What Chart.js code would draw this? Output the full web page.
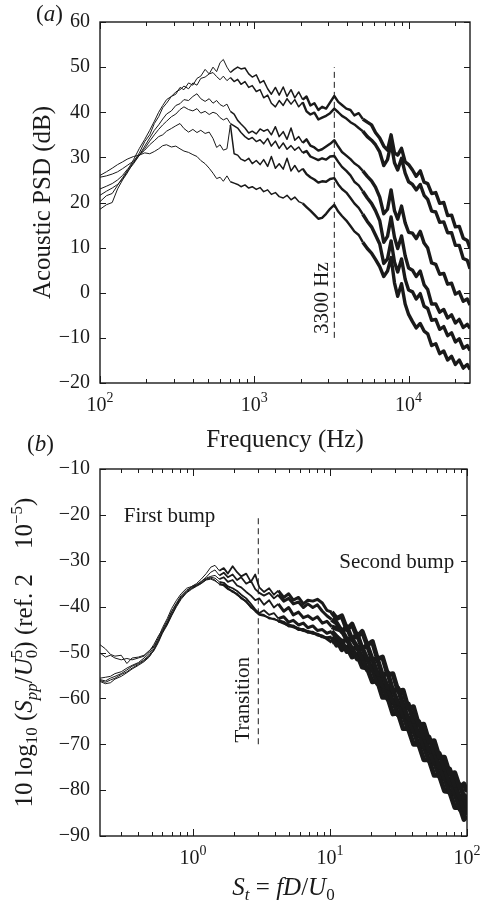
<!DOCTYPE html>
<html>
<head>
<meta charset="utf-8">
<script src="https://cdn.jsdelivr.net/npm/chart.js@4.4.0/dist/chart.umd.min.js"></script>
<style>
  html, body { margin: 0; padding: 0; background: #fff; }
  body { width: 482px; height: 901px; position: relative; overflow: hidden; }
  canvas { position: absolute; left: 0; }
  #chartA { top: 0; }
  #chartB { top: 430px; }
</style>
</head>
<body>
<canvas id="chartA" width="482" height="460"></canvas>
<canvas id="chartB" width="482" height="471"></canvas>
<script>
// ---- panel (a): acoustic PSD (dB) vs frequency (Hz), six runs ----
const FREQ_A = [
  100, 110, 120, 130, 140, 150, 165, 180, 195, 210,
  225, 240, 255, 270, 290, 310, 330, 350, 375, 400,
  425, 450, 480, 510, 540, 570, 600, 630, 665, 700,
  740, 780, 820, 870, 920, 970, 1030, 1090, 1150, 1220,
  1290, 1370, 1450, 1540, 1630, 1730, 1830, 1940, 2060, 2180,
  2310, 2450, 2600, 2750, 2920, 3100, 3300, 3500, 3700, 3950,
  4200, 4450, 4750, 5050, 5400, 5750, 6100, 6500, 6900, 7300,
  7700, 8100, 8500, 9000, 9500, 10000, 10600, 11200, 11900, 12600,
  13300, 14100, 15000, 15900, 16900, 17900, 19000, 20100, 21300, 22600,
  24000, 25000
];
const PSD_A1 = [
  18.5, 19.5, 20, 23, 25, 26.5, 29, 31, 33.5, 35,
  37.5, 39, 41, 42, 43.5, 44, 45.5, 45, 46.5, 46,
  47.5, 48, 49.5, 48.5, 50, 49, 51, 51.7, 50, 48.8,
  49.5, 50, 49.6, 49.8, 48.5, 47.8, 48.3, 46.5, 47, 45.2,
  44, 45.5, 43.8, 45.6, 43.5, 45, 43.2, 44.5, 42.8, 43.5,
  41.5, 42, 40.5, 41.2, 40.8, 42.2, 43.6, 42.3, 41.6, 40.8,
  40.5, 39.3, 39.8, 38.5, 37.8, 37.2, 35.5, 34.3, 32.5, 31.6,
  35, 31, 30.5, 32, 29, 28.4, 27.2, 25.8, 27, 24.5,
  24.2, 22, 22.2, 19.8, 20, 17.1, 17.2, 14.6, 14.7, 12.1,
  11.6, 9.8
];
const PSD_A2 = [
  20.2, 21.5, 22, 23.8, 25.5, 27, 29.5, 32, 34, 36,
  38, 40, 41.5, 42.8, 43.5, 44.5, 45, 45.8, 45.2, 46.5,
  46, 47.5, 47.8, 48.5, 48.8, 47.9, 47.2, 48, 47, 47.7,
  46.8, 47.3, 46.2, 46.8, 45.5, 45.9, 44.6, 45, 43.2, 43.8,
  42, 41.2, 42.6, 41.5, 43, 41.8, 42.8, 41.2, 42.2, 40.2,
  39.5, 39.9, 38.4, 38.8, 39.2, 39.8, 40.8, 40, 39.2, 38.6,
  37.8, 37.3, 36.5, 35.8, 34.6, 33.8, 32.8, 31.2, 28.2, 29.5,
  33.2, 28.8, 27.2, 29.8, 26.5, 24.6, 24, 22.8, 24, 21.6,
  20.7, 18.1, 17.9, 15.6, 15.7, 13.3, 13.3, 10.5, 10.5, 7.6,
  7.2, 5.3
];
const PSD_A3 = [
  21.6, 22.5, 23.2, 24, 25.2, 26.8, 28.6, 30.5, 32.5, 34.3,
  36, 37.2, 38.5, 39.6, 40.3, 41.5, 41.9, 42.8, 42.6, 43.5,
  44.1, 43, 42.4, 43, 42, 42.6, 41.7, 41.3, 41.8, 40.2,
  39.6, 38.2, 37.4, 36.5, 35.4, 35.8, 35.2, 36.3, 35.8, 36.2,
  35, 36.8, 34.6, 35.7, 34, 36.5, 33.8, 34.6, 33.2, 34,
  32.6, 32.2, 31.5, 31.8, 32.4, 33, 33.8, 32.4, 31.2, 30.4,
  29.6, 28.7, 28, 27, 25.8, 24.8, 23.4, 21.2, 17.5, 18.5,
  22.8, 18.2, 16.3, 19.2, 15.5, 13.4, 13.2, 12, 13.6, 11,
  9.9, 6.6, 6.3, 4.1, 4.3, 1.9, 2.1, -0.3, 0.2, -1.9,
  -1.4, -2.7
];
const PSD_A4 = [
  23, 23.6, 24.2, 25, 26, 27.3, 28.8, 30.5, 32, 33.6,
  35, 36.2, 37.2, 38, 39, 39.6, 40.6, 41.2, 40.6, 40.3,
  40.8, 39.8, 40.2, 39.5, 40, 39.7, 38.8, 38.3, 38.7, 37.5,
  37, 36.5, 35.5, 34.6, 34, 34.4, 33.5, 33.9, 33, 34.2,
  32.5, 33.6, 32, 33.2, 31.8, 32.6, 31.6, 32.3, 31, 31.4,
  30.2, 29.8, 29.4, 29.8, 29.5, 30.2, 30.3, 29, 27.9, 27,
  26, 24.6, 23.8, 22.5, 21, 19.8, 18.2, 16, 11.2, 12.5,
  16.8, 12.3, 9.8, 12.6, 8.2, 5.5, 5, 3.6, 4.8, 1.8,
  0.7, -2.5, -2.5, -4.3, -3.7, -5.6, -4.9, -6.7, -5.9, -7.7,
  -7, -7.9
];
const PSD_A5 = [
  25.6, 25.9, 26.3, 26.8, 27.5, 28.2, 29.2, 30.5, 31.6, 32.8,
  33.7, 34.6, 35, 35.8, 36.4, 37, 37.5, 36.4, 35.6, 36.2,
  35.5, 36, 35.3, 35.6, 34.2, 32.2, 32.8, 31.6, 31.9, 37.2,
  30.8, 30.5, 29.6, 29.2, 29.8, 28.6, 29.3, 28.4, 29.5, 28,
  30.2, 27.6, 28.6, 27.4, 29.8, 27, 28.2, 26.8, 27.5, 26.3,
  25.6, 25.1, 24.4, 24.7, 24.6, 25.2, 25.4, 24, 23, 22.2,
  21, 19.8, 18.8, 17.4, 15.8, 14.6, 12.8, 10.8, 6.5, 7.5,
  11.5, 6.8, 4.6, 7.5, 3, 0.6, 0.2, -1.4, -0.2, -3,
  -3.5, -6.1, -5.9, -8.1, -7.5, -9.5, -8.9, -10.9, -10.2, -12.3,
  -11.7, -12.8
];
const PSD_A6 = [
  26, 26.8, 27.6, 28.4, 29, 29.6, 30.2, 30.5, 31, 30.8,
  31.3, 31.9, 32.6, 32.8, 32.3, 32.5, 31.9, 31.4, 31.1, 30.6,
  30.2, 29.3, 28.6, 27.6, 26.5, 25.3, 25.6, 24.7, 25.9, 24.6,
  24.3, 24, 23.5, 23.9, 23.2, 23.5, 22.9, 23.3, 22.4, 22.8,
  21.8, 22.2, 21.3, 21, 21.6, 20.6, 21.2, 20.2, 19.8, 19,
  18.2, 17.3, 16.4, 16.6, 17.5, 18.6, 19.5, 18, 17, 16,
  14.8, 13.6, 12.8, 11.2, 9.8, 8.8, 7.4, 5.8, 3.6, 4.8,
  7.8, 2.2, -0.8, 2, -2.5, -4.8, -6.4, -7.8, -6.8, -8.5,
  -9.1, -11.7, -11.3, -13.5, -12.9, -14.9, -14.1, -15.9, -14.9, -16.7,
  -15.9, -17
];
const Y_TICKS_A = [-20, -10, 0, 10, 20, 30, 40, 50, 60];
const X_DECADES_A = [2, 3, 4];
const MARK_A_FREQ = 3300;
const MARK_A_SPAN = [-10, 50];

// ---- panel (b): normalised spectra vs Strouhal number ----
const ST_B = [
  0.21, 0.23, 0.25, 0.27, 0.3, 0.33, 0.36, 0.4, 0.44, 0.48,
  0.52, 0.56, 0.6, 0.65, 0.7, 0.76, 0.82, 0.9, 0.98, 1.06,
  1.15, 1.25, 1.35, 1.45, 1.56, 1.68, 1.8, 1.95, 2.1, 2.25,
  2.45, 2.65, 2.85, 3.05, 3.3, 3.6, 3.9, 4.2, 4.6, 5,
  5.4, 5.9, 6.4, 6.9, 7.5, 8.1, 8.8, 9.5, 10.3, 11.2,
  12.2, 13.3, 14.5, 15.8, 17.2, 18.7, 20.4, 22.2, 24.2, 26.4,
  28.8, 31.4, 34.2, 37.3, 40.7, 44.4, 48.4, 52.8, 57.6, 62.8,
  68.5, 74.7, 81.5, 88.9, 95, 100
];
const SPL_B1 = [
  -48.3, -49.2, -50.4, -50.8, -50.6, -52.4, -51.2, -51, -50.6, -49.6,
  -48.6, -46.8, -44.6, -42.6, -40.4, -38.6, -37.2, -36, -35.6, -35,
  -34, -32.8, -31.4, -31, -32.2, -31.6, -32.8, -31.2, -32.5, -33.4,
  -32.8, -34.6, -33, -35.8, -36.8, -36, -37.4, -36.5, -38, -37.2,
  -38.6, -38, -39.4, -38.6, -38.8, -38.4, -39.2, -40.8, -41.2, -42.6,
  -42, -45, -43.8, -46.6, -45.4, -48.4, -47.6, -51.4, -51, -54.8,
  -54.6, -58.4, -58.2, -62.2, -61.8, -65.8, -65.6, -69.4, -69.2, -72.8,
  -72.8, -76.4, -76.2, -79.6, -78.6, -80.4
];
const SPL_B2 = [
  -50.1, -51, -50.6, -51.2, -51.6, -51.3, -51.6, -51.2, -50.8, -49.8,
  -48.2, -46.4, -45, -43, -41, -39.2, -37.6, -36.4, -35.8, -35.3,
  -34.5, -33.6, -32.5, -32, -33.2, -32.6, -33.6, -33, -34.2, -33.6,
  -35, -34.4, -36.2, -37, -37.6, -37, -38.2, -37.4, -38.8, -38.2,
  -39.4, -39, -40.2, -39.4, -40.2, -39.6, -41, -42, -42.8, -43.6,
  -45.4, -44.4, -47.2, -46, -49.2, -48.4, -51.6, -51.4, -55, -54.4,
  -58.4, -57.8, -61.6, -61.2, -65, -65, -68.4, -68.4, -71.8, -72,
  -75.4, -75.4, -79, -78.8, -81.6, -81
];
const SPL_B3 = [
  -55.6, -55.4, -55.2, -54.6, -54.2, -53.4, -52.8, -52.2, -51.2, -50.2,
  -48.8, -47.2, -45.2, -43.4, -41.2, -39.4, -37.8, -36.6, -35.6, -35.2,
  -34.6, -33.8, -33.4, -33.2, -34, -33.6, -34.6, -34.2, -35.4, -35.8,
  -36.8, -37.6, -38.6, -38.2, -39.6, -38.6, -40.2, -39.4, -41, -40.2,
  -41.8, -41.2, -42.4, -42, -42.8, -42.2, -43.6, -43.2, -44.4, -44.8,
  -45.2, -47.2, -47, -48.8, -49, -51.4, -51.4, -54.6, -54.8, -57.6,
  -58.2, -61, -61.6, -64.4, -64.8, -68, -68.2, -71.4, -71.6, -75,
  -75.2, -78.4, -78.8, -81.8, -81.4, -83.6
];
const SPL_B4 = [
  -55.9, -56.2, -55.6, -55.2, -54.6, -53.8, -53, -52.4, -51.6, -50.6,
  -49.2, -47.4, -45.6, -43.6, -41.6, -39.8, -38.2, -36.8, -36, -35.4,
  -34.8, -34, -33.6, -33.8, -34.6, -34.8, -35.6, -36, -36.6, -37.4,
  -38.2, -39.4, -40.6, -41.4, -40.8, -41.8, -41.4, -42.6, -42.2, -43.4,
  -43, -44, -43.6, -44.6, -44.2, -45.2, -45, -45.8, -45.4, -46.6,
  -47.6, -47.2, -49.2, -49, -51.2, -51.4, -53.8, -54.4, -57.2, -57.6,
  -60.8, -61, -63.8, -64.2, -67.2, -67.4, -70.6, -70.8, -74, -74.2,
  -77.6, -77.8, -81, -81.4, -84.2, -83.4
];
const SPL_B5 = [
  -56.1, -56.5, -56, -55.6, -54.8, -54.2, -53.4, -52.6, -51.8, -50.8,
  -49.6, -47.8, -45.8, -44, -42, -40, -38.4, -37, -36.2, -35.6,
  -35, -34.2, -34, -34.4, -35, -35.4, -36.2, -36.6, -37.4, -38,
  -39, -40, -41, -41.8, -42, -42.4, -42.8, -43, -43.6, -44,
  -44.4, -44.8, -45.2, -45.4, -45.8, -46, -46.6, -46.8, -46.6, -48.4,
  -47.6, -49.8, -49.2, -51.4, -51, -53.8, -53.6, -56.8, -57, -60.2,
  -60.4, -63.6, -63.6, -66.8, -67, -70.2, -70.4, -73.6, -73.8, -77,
  -77.2, -80.6, -80.8, -84.2, -84, -85.4
];
const SPL_B6 = [
  -56.3, -56.8, -56.6, -55.8, -55.2, -54.4, -53.6, -52.8, -52, -51,
  -49.4, -47.6, -45.4, -43.8, -41.8, -39.6, -38, -36.8, -36, -35.5,
  -34.9, -34.1, -33.8, -34.2, -35.2, -35.2, -36, -36.8, -37.2, -38.2,
  -38.8, -40.2, -40.8, -41.6, -41.8, -42.6, -42.6, -43.2, -43.4, -44.2,
  -44.2, -45, -45, -45.6, -45.6, -46.2, -46.4, -47, -47.8, -47.2,
  -49.4, -48.8, -51, -50.4, -53.2, -53.4, -56.4, -56.2, -59.8, -59.8,
  -63.4, -63.2, -66.6, -66.6, -70, -70, -73.4, -73.4, -76.8, -76.8,
  -80.2, -80.4, -83.8, -83.8, -86.4, -85.6
];
const Y_TICKS_B = [-90, -80, -70, -60, -50, -40, -30, -20, -10];
const X_DECADES_B = [0, 1, 2];
const MARK_B_ST = 3;
const MARK_B_SPAN = [-70, -20];

const SERIF = '"Liberation Serif", "Times New Roman", serif';
const INK = '#1a1a1a';

function font(size, italic) {
  return (italic ? 'italic ' : '') + size + 'px ' + SERIF;
}

// draws a run of text pieces (sub/superscripts, italics); hold = stack next piece on top
function drawRich(ctx, parts, x, y, opt) {
  ctx.save();
  ctx.translate(x, y);
  if (opt.rotate) ctx.rotate(-Math.PI / 2);
  ctx.fillStyle = INK;
  ctx.textBaseline = 'alphabetic';
  ctx.textAlign = 'left';
  const widths = parts.map(p => {
    ctx.font = font(p.size || opt.size, p.it);
    return ctx.measureText(p.t).width;
  });
  let total = 0, held = 0;
  parts.forEach((p, i) => {
    if (p.hold) { held = widths[i]; return; }
    total += Math.max(widths[i], held);
    held = 0;
  });
  let cx = opt.align === 'center' ? -total / 2 : 0;
  held = 0;
  parts.forEach((p, i) => {
    ctx.font = font(p.size || opt.size, p.it);
    ctx.fillText(p.t, cx, p.dy || 0);
    if (p.hold) { held = widths[i]; return; }
    cx += Math.max(widths[i], held);
    held = 0;
  });
  ctx.restore();
}

const minus = v => (v < 0 ? '\u2212' + Math.abs(v) : String(v));

function decor(decades, extra) {
  return {
    id: 'decor',
    afterDraw(chart) {
      const ctx = chart.ctx;
      const a = chart.chartArea;
      const xs = chart.scales.x;
      const ys = chart.scales.y;
      ctx.save();
      ctx.strokeStyle = INK;
      ctx.lineWidth = 1;
      ctx.beginPath();
      // inward ticks on all four sides
      for (let k = Math.floor(Math.log10(xs.min)); k <= Math.ceil(Math.log10(xs.max)); k++) {
        for (let m = 1; m <= 9; m++) {
          const v = m * Math.pow(10, k);
          if (v < xs.min * 0.999 || v > xs.max * 1.001) continue;
          const px = Math.round(xs.getPixelForValue(v)) + 0.5;
          const len = m === 1 ? 7 : 4;
          ctx.moveTo(px, a.bottom); ctx.lineTo(px, a.bottom - len);
          ctx.moveTo(px, a.top); ctx.lineTo(px, a.top + len);
        }
      }
      ys.ticks.forEach(t => {
        const py = Math.round(ys.getPixelForValue(t.value)) + 0.5;
        ctx.moveTo(a.left, py); ctx.lineTo(a.left + 6, py);
        ctx.moveTo(a.right, py); ctx.lineTo(a.right - 6, py);
      });
      ctx.stroke();
      ctx.lineWidth = 1.4;
      ctx.strokeRect(a.left, a.top, a.right - a.left, a.bottom - a.top);
      ctx.restore();

      decades.forEach(k => {
        const px = xs.getPixelForValue(Math.pow(10, k));
        drawRich(ctx, [{ t: '10' }, { t: minus(k), size: 14, dy: -9 }],
          px, a.bottom + 28, { size: 20, align: 'center' });
      });
      extra(ctx, chart, a, xs, ys);
    }
  };
}

function lineSet(xv, yv, widthFn) {
  return {
    data: xv.map((x, i) => ({ x: x, y: yv[i] })),
    borderColor: INK,
    borderWidth: 1,
    borderJoinStyle: 'round',
    pointRadius: 0,
    segment: { borderWidth: c => widthFn(c.p0.parsed.x) }
  };
}

function markSet(xv, span) {
  return {
    data: [{ x: xv, y: span[0] }, { x: xv, y: span[1] }],
    borderColor: INK,
    borderWidth: 1,
    borderDash: [6, 4],
    pointRadius: 0
  };
}

function baseOptions(xmin, xmax, ymin, ymax, yticks, pad, xh) {
  return {
    responsive: false,
    animation: false,
    events: [],
    layout: { padding: pad },
    plugins: { legend: { display: false }, tooltip: { enabled: false } },
    elements: { line: { tension: 0 } },
    scales: {
      x: {
        type: 'logarithmic', min: xmin, max: xmax,
        ticks: { display: false },
        grid: { display: false, drawTicks: false },
        border: { display: false },
        afterFit: s => { s.height = xh; }
      },
      y: {
        type: 'linear', min: ymin, max: ymax,
        afterBuildTicks: s => { s.ticks = yticks.map(v => ({ value: v })); },
        ticks: {
          color: INK, padding: 10,
          font: { family: SERIF, size: 20 },
          callback: v => minus(v)
        },
        grid: { display: false, drawTicks: false },
        border: { display: false },
        afterFit: s => { s.width = 100; }
      }
    }
  };
}

// ---- chart (a) ----
const widthA = f => (f < 700 ? 1 : f < 2000 ? 1.5 : f < 5000 ? 2.4 : 3.4);
new Chart(document.getElementById('chartA'), {
  type: 'line',
  data: {
    datasets: [PSD_A1, PSD_A2, PSD_A3, PSD_A4, PSD_A5, PSD_A6]
      .map(v => lineSet(FREQ_A, v, widthA))
      .concat([markSet(MARK_A_FREQ, MARK_A_SPAN)])
  },
  options: baseOptions(100, 25000, -20, 60, Y_TICKS_A,
    { left: 0, right: 12, top: 15, bottom: 0 }, 77),
  plugins: [decor(X_DECADES_A, (ctx, chart, a, xs, ys) => {
    drawRich(ctx, [{ t: '(' }, { t: 'a', it: true }, { t: ')' }], 36, 21, { size: 23 });
    drawRich(ctx, [{ t: 'Acoustic PSD (dB)' }], 50, (a.top + a.bottom) / 2,
      { size: 25, rotate: true, align: 'center' });
    drawRich(ctx, [{ t: 'Frequency (Hz)' }], (a.left + a.right) / 2, 447,
      { size: 25, align: 'center' });
    drawRich(ctx, [{ t: '3300 Hz' }], xs.getPixelForValue(MARK_A_FREQ) - 6,
      ys.getPixelForValue(-1.2), { size: 21, rotate: true, align: 'center' });
  })]
});

// ---- chart (b) ----
const widthB = s => (s < 1.5 ? 1 : s < 4 ? 1.8 : s < 10 ? 3 : 4.8);
const SUB = { size: 17, dy: 5 };
const SUP = { size: 17, dy: -10 };
new Chart(document.getElementById('chartB'), {
  type: 'line',
  data: {
    datasets: [SPL_B1, SPL_B2, SPL_B3, SPL_B4, SPL_B5, SPL_B6]
      .map(v => lineSet(ST_B, v, widthB))
      .concat([markSet(MARK_B_ST, MARK_B_SPAN)])
  },
  options: baseOptions(0.21, 100, -90, -10, Y_TICKS_B,
    { left: 0, right: 15, top: 39, bottom: 0 }, 65),
  plugins: [decor(X_DECADES_B, (ctx, chart, a, xs, ys) => {
    drawRich(ctx, [{ t: '(' }, { t: 'b', it: true }, { t: ')' }], 27, 21, { size: 23 });
    drawRich(ctx, [
      { t: '10 log' }, { t: '10', ...SUB }, { t: ' (' },
      { t: 'S', it: true }, { t: 'pp', it: true, ...SUB }, { t: '/' },
      { t: 'U', it: true }, { t: '0', ...SUB, hold: true }, { t: '5', ...SUP },
      { t: ') (ref. 2    10' }, { t: '\u22125', ...SUP }, { t: ')' }
    ], 32, (a.top + a.bottom) / 2, { size: 25, rotate: true, align: 'center' });
    drawRich(ctx, [
      { t: 'S', it: true }, { t: 't', it: true, ...SUB }, { t: ' = ' },
      { t: 'fD', it: true }, { t: '/' }, { t: 'U', it: true }, { t: '0', ...SUB }
    ], (a.left + a.right) / 2, 465, { size: 25, align: 'center' });
    drawRich(ctx, [{ t: 'Transition' }], xs.getPixelForValue(MARK_B_ST) - 9,
      ys.getPixelForValue(-60.3), { size: 21, rotate: true, align: 'center' });
    drawRich(ctx, [{ t: 'First bump' }], xs.getPixelForValue(0.313),
      ys.getPixelForValue(-21.5), { size: 21 });
    drawRich(ctx, [{ t: 'Second bump' }], xs.getPixelForValue(11.7),
      ys.getPixelForValue(-31.6), { size: 21 });
  })]
});
</script>
</body>
</html>
